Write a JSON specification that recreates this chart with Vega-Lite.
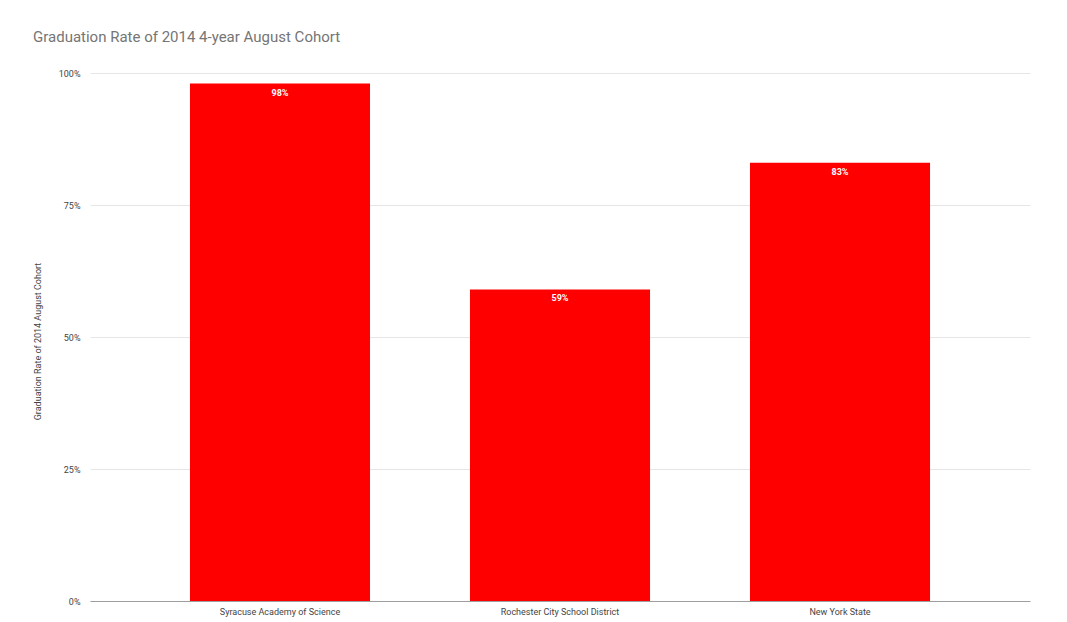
{
  "$schema": "https://vega.github.io/schema/vega-lite/v6.json",
  "width": 940,
  "height": 528,
  "autosize": {"type": "none"},
  "padding": {"left": 90, "top": 73, "right": 37, "bottom": 21},
  "background": "white",
  "title": {
    "text": "Graduation Rate of 2014 4-year August Cohort",
    "anchor": "start",
    "frame": "group",
    "dx": -57,
    "offset": 24,
    "fontSize": 15,
    "font": "Roboto",
    "fontWeight": "normal",
    "color": "#757575"
  },
  "data": {
    "values": [
      {"school": "Syracuse Academy of Science", "rate": 0.98},
      {"school": "Rochester City School District", "rate": 0.59},
      {"school": "New York State", "rate": 0.83}
    ]
  },
  "encoding": {
    "x": {
      "field": "school",
      "type": "nominal",
      "sort": null,
      "scale": {"paddingInner": 0.357, "paddingOuter": 0.357},
      "axis": {
        "title": null,
        "labelAngle": 0,
        "labelFont": "Roboto",
        "labelFontSize": 9,
        "labelColor": "#444444",
        "domainColor": "#9e9e9e",
        "ticks": false,
        "labelPadding": 6
      }
    },
    "y": {
      "field": "rate",
      "type": "quantitative",
      "scale": {"domain": [0, 1]},
      "axis": {
        "title": "Graduation Rate of 2014 August Cohort",
        "titleFont": "Roboto",
        "titleFontSize": 9,
        "titleFontWeight": "normal",
        "titleColor": "#444444",
        "titlePadding": 16,
        "titleY": 268,
        "format": ".0%",
        "values": [0, 0.25, 0.5, 0.75, 1],
        "labelFont": "Roboto",
        "labelFontSize": 9,
        "labelColor": "#444444",
        "domain": false,
        "ticks": false,
        "labelPadding": 10,
        "gridColor": "#e6e6e6"
      }
    }
  },
  "layer": [
    {"mark": {"type": "bar", "color": "#ff0000"}},
    {
      "mark": {"type": "text", "baseline": "top", "dy": 5, "color": "white", "fontWeight": "bold", "fontSize": 9, "font": "Roboto"},
      "encoding": {"text": {"field": "rate", "type": "quantitative", "format": ".0%"}}
    }
  ],
  "config": {"view": {"stroke": null}}
}
